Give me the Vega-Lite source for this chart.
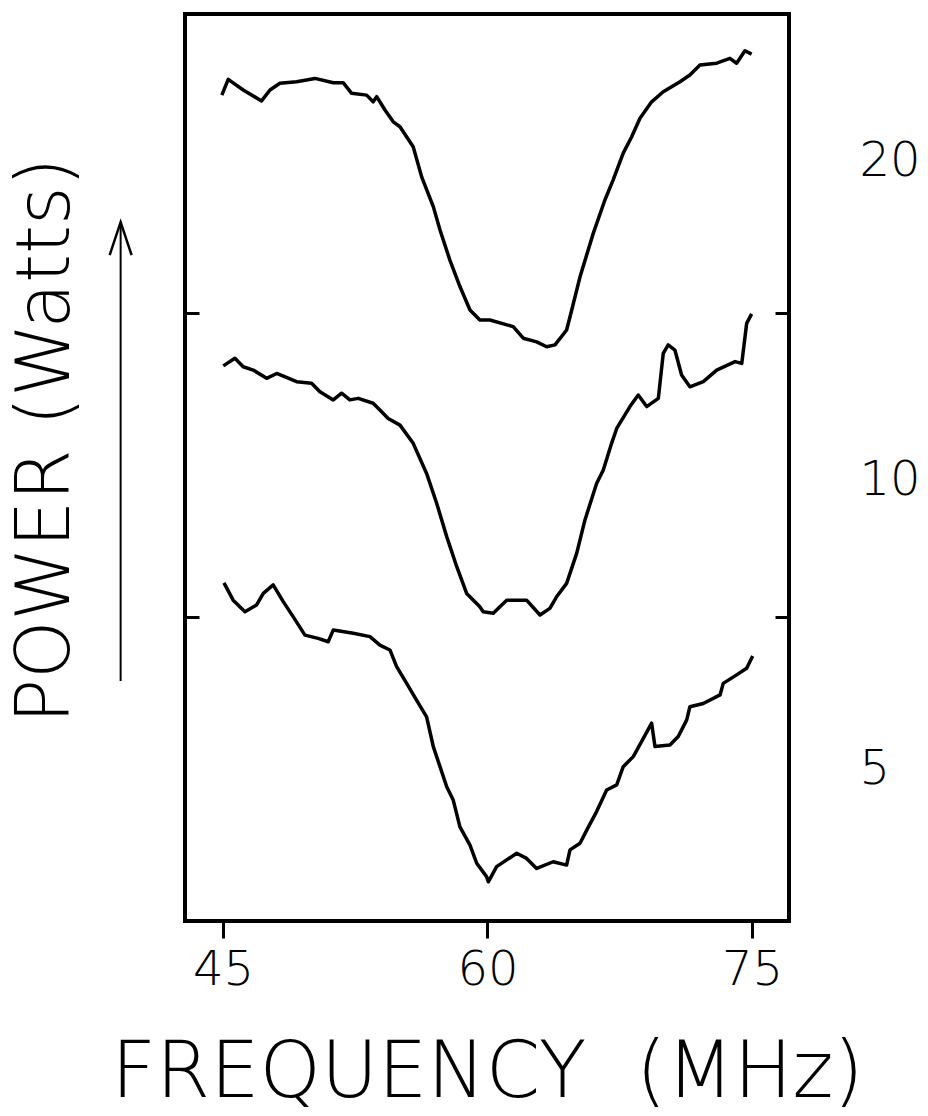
{
  "$schema": "https://vega.github.io/schema/vega-lite/v6.json",
  "width": 604,
  "height": 907,
  "autosize": {"type": "none"},
  "padding": {"left": 185, "top": 14, "right": 139, "bottom": 195},
  "background": "white",
  "config": {"view": {"stroke": "black", "strokeWidth": 4}, "font": "DejaVu Sans"},
  "datasets": {
    "traces": [
      {"trace": "20", "freq": 44.94, "power": 2.718},
      {"trace": "20", "freq": 45.30, "power": 2.770},
      {"trace": "20", "freq": 46.15, "power": 2.735},
      {"trace": "20", "freq": 47.19, "power": 2.699},
      {"trace": "20", "freq": 47.67, "power": 2.735},
      {"trace": "20", "freq": 48.23, "power": 2.757},
      {"trace": "20", "freq": 49.18, "power": 2.762},
      {"trace": "20", "freq": 50.22, "power": 2.773},
      {"trace": "20", "freq": 51.26, "power": 2.759},
      {"trace": "20", "freq": 51.82, "power": 2.759},
      {"trace": "20", "freq": 52.30, "power": 2.724},
      {"trace": "20", "freq": 53.15, "power": 2.718},
      {"trace": "20", "freq": 53.52, "power": 2.696},
      {"trace": "20", "freq": 53.72, "power": 2.713},
      {"trace": "20", "freq": 54.19, "power": 2.669},
      {"trace": "20", "freq": 54.66, "power": 2.630},
      {"trace": "20", "freq": 55.04, "power": 2.614},
      {"trace": "20", "freq": 55.79, "power": 2.548},
      {"trace": "20", "freq": 56.27, "power": 2.449},
      {"trace": "20", "freq": 56.93, "power": 2.351},
      {"trace": "20", "freq": 57.31, "power": 2.274},
      {"trace": "20", "freq": 57.87, "power": 2.175},
      {"trace": "20", "freq": 58.44, "power": 2.088},
      {"trace": "20", "freq": 59.01, "power": 2.011},
      {"trace": "20", "freq": 59.57, "power": 1.978},
      {"trace": "20", "freq": 60.14, "power": 1.978},
      {"trace": "20", "freq": 61.46, "power": 1.956},
      {"trace": "20", "freq": 62.03, "power": 1.918},
      {"trace": "20", "freq": 62.79, "power": 1.906},
      {"trace": "20", "freq": 63.36, "power": 1.890},
      {"trace": "20", "freq": 63.83, "power": 1.896},
      {"trace": "20", "freq": 64.49, "power": 1.945},
      {"trace": "20", "freq": 64.78, "power": 2.011},
      {"trace": "20", "freq": 65.25, "power": 2.120},
      {"trace": "20", "freq": 66.00, "power": 2.263},
      {"trace": "20", "freq": 66.66, "power": 2.373},
      {"trace": "20", "freq": 67.13, "power": 2.439},
      {"trace": "20", "freq": 67.70, "power": 2.527},
      {"trace": "20", "freq": 68.18, "power": 2.581},
      {"trace": "20", "freq": 68.65, "power": 2.642},
      {"trace": "20", "freq": 69.31, "power": 2.696},
      {"trace": "20", "freq": 69.97, "power": 2.729},
      {"trace": "20", "freq": 70.92, "power": 2.762},
      {"trace": "20", "freq": 71.48, "power": 2.784},
      {"trace": "20", "freq": 72.05, "power": 2.817},
      {"trace": "20", "freq": 73.00, "power": 2.823},
      {"trace": "20", "freq": 73.75, "power": 2.839},
      {"trace": "20", "freq": 74.13, "power": 2.823},
      {"trace": "20", "freq": 74.60, "power": 2.864},
      {"trace": "20", "freq": 74.98, "power": 2.853},
      {"trace": "10", "freq": 45.02, "power": 1.827},
      {"trace": "10", "freq": 45.68, "power": 1.852},
      {"trace": "10", "freq": 46.15, "power": 1.824},
      {"trace": "10", "freq": 46.72, "power": 1.813},
      {"trace": "10", "freq": 47.48, "power": 1.786},
      {"trace": "10", "freq": 48.05, "power": 1.802},
      {"trace": "10", "freq": 49.18, "power": 1.775},
      {"trace": "10", "freq": 50.03, "power": 1.770},
      {"trace": "10", "freq": 50.50, "power": 1.742},
      {"trace": "10", "freq": 51.26, "power": 1.715},
      {"trace": "10", "freq": 51.73, "power": 1.737},
      {"trace": "10", "freq": 52.20, "power": 1.715},
      {"trace": "10", "freq": 52.67, "power": 1.720},
      {"trace": "10", "freq": 53.52, "power": 1.704},
      {"trace": "10", "freq": 54.00, "power": 1.676},
      {"trace": "10", "freq": 54.37, "power": 1.654},
      {"trace": "10", "freq": 55.04, "power": 1.632},
      {"trace": "10", "freq": 55.79, "power": 1.572},
      {"trace": "10", "freq": 56.55, "power": 1.473},
      {"trace": "10", "freq": 57.12, "power": 1.375},
      {"trace": "10", "freq": 57.69, "power": 1.265},
      {"trace": "10", "freq": 58.26, "power": 1.166},
      {"trace": "10", "freq": 58.82, "power": 1.078},
      {"trace": "10", "freq": 59.57, "power": 1.034},
      {"trace": "10", "freq": 59.76, "power": 1.018},
      {"trace": "10", "freq": 60.33, "power": 1.013},
      {"trace": "10", "freq": 61.09, "power": 1.056},
      {"trace": "10", "freq": 62.22, "power": 1.056},
      {"trace": "10", "freq": 62.98, "power": 1.007},
      {"trace": "10", "freq": 63.54, "power": 1.029},
      {"trace": "10", "freq": 63.92, "power": 1.067},
      {"trace": "10", "freq": 64.49, "power": 1.111},
      {"trace": "10", "freq": 65.06, "power": 1.210},
      {"trace": "10", "freq": 65.53, "power": 1.320},
      {"trace": "10", "freq": 66.19, "power": 1.440},
      {"trace": "10", "freq": 66.57, "power": 1.484},
      {"trace": "10", "freq": 67.04, "power": 1.572},
      {"trace": "10", "freq": 67.33, "power": 1.621},
      {"trace": "10", "freq": 68.08, "power": 1.693},
      {"trace": "10", "freq": 68.55, "power": 1.731},
      {"trace": "10", "freq": 69.03, "power": 1.693},
      {"trace": "10", "freq": 69.69, "power": 1.720},
      {"trace": "10", "freq": 69.97, "power": 1.868},
      {"trace": "10", "freq": 70.25, "power": 1.896},
      {"trace": "10", "freq": 70.63, "power": 1.879},
      {"trace": "10", "freq": 71.01, "power": 1.797},
      {"trace": "10", "freq": 71.48, "power": 1.758},
      {"trace": "10", "freq": 72.24, "power": 1.775},
      {"trace": "10", "freq": 73.00, "power": 1.813},
      {"trace": "10", "freq": 74.04, "power": 1.841},
      {"trace": "10", "freq": 74.42, "power": 1.835},
      {"trace": "10", "freq": 74.70, "power": 1.967},
      {"trace": "10", "freq": 74.98, "power": 1.998},
      {"trace": "5", "freq": 45.06, "power": 1.113},
      {"trace": "5", "freq": 45.58, "power": 1.056},
      {"trace": "5", "freq": 46.25, "power": 1.018},
      {"trace": "5", "freq": 46.91, "power": 1.040},
      {"trace": "5", "freq": 47.29, "power": 1.078},
      {"trace": "5", "freq": 47.85, "power": 1.106},
      {"trace": "5", "freq": 48.42, "power": 1.051},
      {"trace": "5", "freq": 48.99, "power": 1.001},
      {"trace": "5", "freq": 49.65, "power": 0.941},
      {"trace": "5", "freq": 50.40, "power": 0.930},
      {"trace": "5", "freq": 50.97, "power": 0.919},
      {"trace": "5", "freq": 51.26, "power": 0.958},
      {"trace": "5", "freq": 52.39, "power": 0.947},
      {"trace": "5", "freq": 53.34, "power": 0.936},
      {"trace": "5", "freq": 53.90, "power": 0.908},
      {"trace": "5", "freq": 54.47, "power": 0.892},
      {"trace": "5", "freq": 54.85, "power": 0.837},
      {"trace": "5", "freq": 55.42, "power": 0.782},
      {"trace": "5", "freq": 55.98, "power": 0.727},
      {"trace": "5", "freq": 56.55, "power": 0.672},
      {"trace": "5", "freq": 56.93, "power": 0.574},
      {"trace": "5", "freq": 57.31, "power": 0.508},
      {"trace": "5", "freq": 57.69, "power": 0.442},
      {"trace": "5", "freq": 58.06, "power": 0.398},
      {"trace": "5", "freq": 58.44, "power": 0.310},
      {"trace": "5", "freq": 59.01, "power": 0.250},
      {"trace": "5", "freq": 59.39, "power": 0.190},
      {"trace": "5", "freq": 59.95, "power": 0.146},
      {"trace": "5", "freq": 60.05, "power": 0.129},
      {"trace": "5", "freq": 60.52, "power": 0.179},
      {"trace": "5", "freq": 61.66, "power": 0.223},
      {"trace": "5", "freq": 62.22, "power": 0.206},
      {"trace": "5", "freq": 62.79, "power": 0.173},
      {"trace": "5", "freq": 63.73, "power": 0.195},
      {"trace": "5", "freq": 64.49, "power": 0.184},
      {"trace": "5", "freq": 64.68, "power": 0.234},
      {"trace": "5", "freq": 65.25, "power": 0.256},
      {"trace": "5", "freq": 65.63, "power": 0.299},
      {"trace": "5", "freq": 66.19, "power": 0.360},
      {"trace": "5", "freq": 66.76, "power": 0.431},
      {"trace": "5", "freq": 67.33, "power": 0.448},
      {"trace": "5", "freq": 67.70, "power": 0.508},
      {"trace": "5", "freq": 68.27, "power": 0.541},
      {"trace": "5", "freq": 68.84, "power": 0.601},
      {"trace": "5", "freq": 69.31, "power": 0.651},
      {"trace": "5", "freq": 69.50, "power": 0.574},
      {"trace": "5", "freq": 70.35, "power": 0.579},
      {"trace": "5", "freq": 70.82, "power": 0.607},
      {"trace": "5", "freq": 71.30, "power": 0.662},
      {"trace": "5", "freq": 71.48, "power": 0.705},
      {"trace": "5", "freq": 72.24, "power": 0.716},
      {"trace": "5", "freq": 73.19, "power": 0.744},
      {"trace": "5", "freq": 73.37, "power": 0.782},
      {"trace": "5", "freq": 74.13, "power": 0.810},
      {"trace": "5", "freq": 74.70, "power": 0.832},
      {"trace": "5", "freq": 75.04, "power": 0.872}
    ],
    "arrow": [{"freq": 39.2, "from": 0.79, "to": 2.30}]
  },
  "layer": [
    {
      "data": {"name": "traces"},
      "mark": {"type": "line", "color": "black", "strokeWidth": 3.5, "strokeJoin": "round"},
      "encoding": {
        "x": {
          "field": "freq", "type": "quantitative",
          "scale": {"domain": [42.85, 77.1], "nice": false, "zero": false},
          "axis": {
            "values": [45, 60, 75], "domain": false, "grid": false,
            "tickSize": 17, "tickWidth": 3, "tickColor": "black",
            "labelFont": "DejaVu Sans", "labelFontSize": 48, "labelFontWeight": 200, "labelColor": "black", "labelPadding": 8,
            "title": "FREQUENCY\u00a0 (MHz)", "titleFont": "DejaVu Sans", "titleFontSize": 78, "titleFontWeight": 200,
            "titleColor": "black", "titlePadding": 40
          }
        },
        "y": {
          "field": "power", "type": "quantitative",
          "scale": {"domain": [0, 2.985], "nice": false, "zero": false},
          "axis": {
            "orient": "left", "values": [1, 2], "domain": false, "grid": false, "labels": false,
            "tickSize": -14, "tickWidth": 3, "tickColor": "black",
            "title": "POWER (Watts)", "titleFont": "DejaVu Sans", "titleFontSize": 74, "titleFontWeight": 200,
            "titleColor": "black", "titlePadding": 99, "titleY": 426
          }
        },
        "detail": {"field": "trace", "type": "nominal"}
      }
    },
    {
      "data": {"name": "arrow"},
      "mark": {"type": "rule", "color": "black", "strokeWidth": 2},
      "encoding": {
        "x": {"field": "freq", "type": "quantitative"},
        "y": {
          "field": "from", "type": "quantitative",
          "axis": {
            "orient": "right", "values": [1, 2], "domain": false, "grid": false, "labels": false,
            "tickSize": -14, "tickWidth": 3, "tickColor": "black", "title": null
          }
        },
        "y2": {"field": "to"}
      }
    },
    {
      "data": {"name": "arrow"},
      "mark": {"type": "point", "shape": "M-0.333,1L0,0L0.333,1", "filled": false, "size": 4356, "strokeWidth": 2.5, "color": "black", "opacity": 1},
      "encoding": {
        "x": {"field": "freq", "type": "quantitative"},
        "y": {
          "field": "to", "type": "quantitative",
          "axis": {
            "orient": "right", "values": [0.5, 1.45, 2.5], "domain": false, "grid": false, "ticks": false,
            "labelExpr": "datum.value == 2.5 ? '20' : datum.value == 0.5 ? '5' : '10'",
            "labelFont": "DejaVu Sans", "labelFontSize": 48, "labelFontWeight": 200, "labelColor": "black",
            "labelPadding": 70, "title": null
          }
        }
      }
    }
  ],
  "resolve": {"axis": {"y": "independent"}}
}
